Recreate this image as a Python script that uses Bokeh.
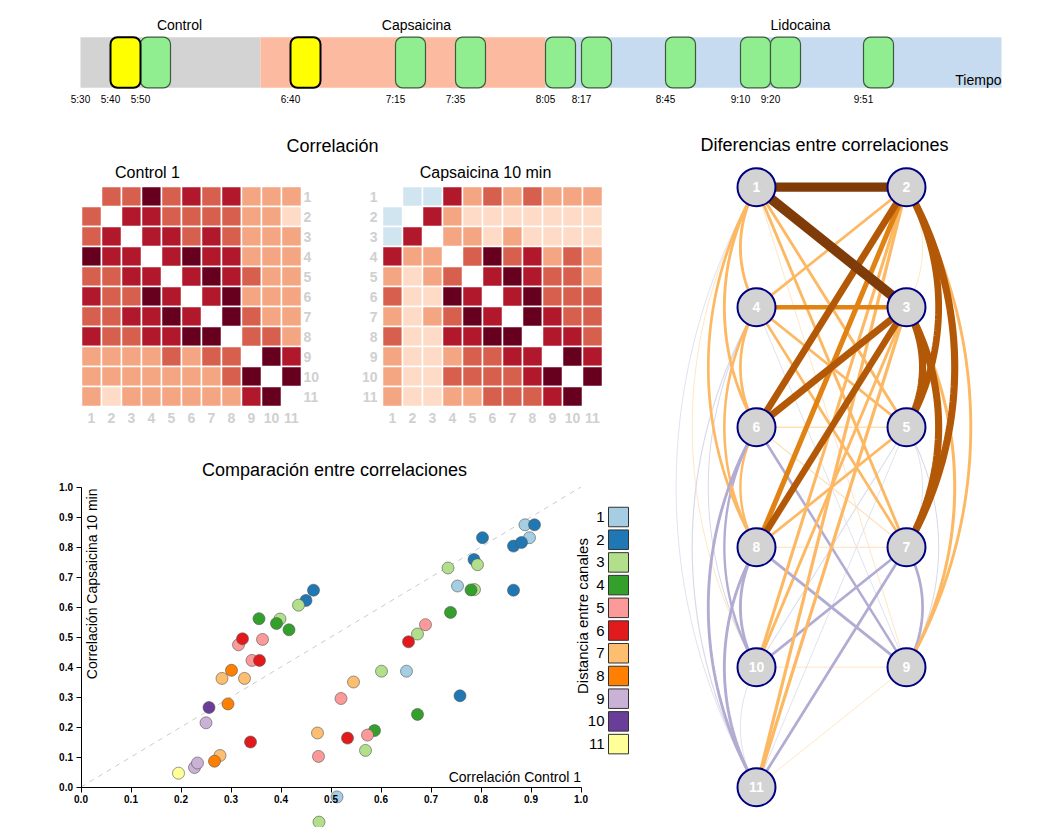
import math
import numpy as np
from bokeh.plotting import figure
from bokeh.models import Range1d, LinearAxis, FixedTicker, PrintfTickFormatter, ColumnDataSource
from bokeh.layouts import column, row
from bokeh.embed import file_html
from bokeh.resources import INLINE
from bokeh.core.properties import value

FONT = "Liberation Sans"

# ---------------- timeline data ----------------
phase_names = ["Control", "Capsaicina", "Lidocaina"]
phase_start = ["5:30", "6:30", "8:05"]
phase_end = ["6:30", "8:05", "10:37"]
phase_label_at = ["6:03", "7:22", "9:30"]
phase_colors = ["#d3d3d3", "#fcbba1", "#c6dbef"]
record_times = ["5:40", "5:50", "6:40", "7:15", "7:35", "8:05", "8:17", "8:45", "9:10", "9:20", "9:51"]
record_is_ref = [True, False, True, False, False, False, False, False, False, False, False]
record_minutes = 10
tick_labels = ["5:30"] + record_times

# ---------------- heatmap data (colour class per cell, '.' = diagonal) ----------------
heat_channels = [str(i) for i in range(1, 12)]
control_1 = [
    ".3353434222",
    "3.443333221",
    "34.44343222",
    "544.4544222",
    "3344.454322",
    "43354.45222",
    "334454.5322",
    "4334455.332",
    "22223233.54",
    "222222235.5",
    "2122222245.",
]
capsaicina_10 = [
    ".0042323222",
    "0.421111111",
    "04.22121111",
    "422.3534232",
    "2123.454332",
    "31154.45333",
    "212354.5433",
    "3114455.443",
    "21123344.54",
    "211333345.5",
    "2112233345.",
]
heat_palette = ["#d1e5f0", "#fddbc7", "#f4a582", "#d6604d", "#b2182b", "#67001f"]

# ---------------- scatter data ----------------
dist_1_x = [0.512, 0.651, 0.753, 0.888, 0.897]
dist_1_y = [-0.033, 0.386, 0.670, 0.874, 0.831]
dist_2_x = [0.450, 0.465, 0.758, 0.786, 0.803, 0.865, 0.881, 0.865, 0.907]
dist_2_y = [0.622, 0.656, 0.304, 0.758, 0.831, 0.803, 0.815, 0.656, 0.874]
dist_3_x = [0.398, 0.435, 0.476, 0.569, 0.601, 0.673, 0.734, 0.787, 0.793]
dist_3_y = [0.560, 0.606, -0.117, 0.122, 0.386, 0.510, 0.730, 0.658, 0.741]
dist_4_x = [0.356, 0.391, 0.416, 0.587, 0.673, 0.739, 0.780]
dist_4_y = [0.561, 0.545, 0.524, 0.188, 0.242, 0.582, 0.657]
dist_5_x = [0.315, 0.342, 0.363, 0.475, 0.520, 0.573, 0.689]
dist_5_y = [0.474, 0.422, 0.492, 0.102, 0.295, 0.173, 0.541]
dist_6_x = [0.323, 0.339, 0.357, 0.533, 0.655]
dist_6_y = [0.494, 0.150, 0.422, 0.163, 0.484]
dist_7_x = [0.278, 0.282, 0.327, 0.473, 0.545]
dist_7_y = [0.105, 0.362, 0.362, 0.180, 0.350]
dist_8_x = [0.267, 0.294, 0.301]
dist_8_y = [0.086, 0.277, 0.389]
dist_9_x = [0.227, 0.233, 0.250]
dist_9_y = [0.065, 0.080, 0.214]
dist_10_x = [0.256]
dist_10_y = [0.265]
dist_11_x = [0.195]
dist_11_y = [0.046]
dist_labels = [str(i) for i in range(1, 12)]
dist_colors = ["#a6cee3", "#1f78b4", "#b2df8a", "#33a02c", "#fb9a99", "#e31a1c",
               "#fdbf6f", "#ff7f00", "#cab2d6", "#6a3d9a", "#ffff99"]
axis_ticks = [0.0, 0.1, 0.2, 0.3, 0.4, 0.5, 0.6, 0.7, 0.8, 0.9, 1.0]

# ---------------- network data ----------------
node_ids = [1, 2, 3, 4, 5, 6, 7, 8, 9, 10, 11]
node_col = [0, 1, 1, 0, 1, 0, 1, 0, 1, 0, 0]
node_row = [0, 0, 1, 1, 2, 2, 3, 3, 4, 4, 5]
edge_a = [1, 1, 1, 1, 1, 1, 1, 1, 1, 1,
          2, 2, 2, 2, 2, 2, 2, 2, 2,
          3, 3, 3, 3, 3, 3, 3, 3,
          4, 4, 4, 4, 4, 4, 4,
          5, 5, 5, 5, 5, 5,
          6, 6, 6, 6, 6,
          7, 7, 7, 7,
          8, 8, 8,
          9, 9,
          10]
edge_b = [2, 3, 4, 5, 6, 7, 8, 9, 10, 11,
          3, 4, 5, 6, 7, 8, 9, 10, 11,
          4, 5, 6, 7, 8, 9, 10, 11,
          5, 6, 7, 8, 9, 10, 11,
          6, 7, 8, 9, 10, 11,
          7, 8, 9, 10, 11,
          8, 9, 10, 11,
          9, 10, 11,
          10, 11,
          11]
edge_diff = [0.55, 0.59, 0.17, 0.17, 0.17, 0.17, 0.16, 0.04, 0.03, -0.02,
             0.04, 0.16, 0.40, 0.40, 0.42, 0.30, 0.17, 0.18, 0.19,
             0.26, 0.42, 0.42, 0.42, 0.38, 0.18, 0.17, 0.19,
             0.16, 0.16, 0.16, 0.15, -0.04, -0.06, -0.07,
             0.09, -0.03, 0.16, -0.06, -0.06, -0.04,
             0.07, 0.14, -0.15, -0.14, -0.17,
             0.06, -0.16, -0.16, -0.16,
             -0.17, -0.17, -0.17,
             0.02, 0.01,
             -0.03]


def minutes(s):
    h, m = s.split(":")
    return (int(h) - 5) * 60 + int(m) - 30


def clean(p):
    p.grid.visible = False
    p.outline_line_color = None
    p.background_fill_color = "white"
    p.border_fill_color = "white"


# =============== timeline ===============
T_W, T_H = 1035, 112
pt = figure(width=T_W, height=T_H, x_range=Range1d(-80 / 3.0, -80 / 3.0 + T_W / 3.0),
            y_range=Range1d(-0.034, 1.725), toolbar_location=None, output_backend="svg",
            x_axis_location=None, y_axis_location=None,
            min_border_left=0, min_border_right=0, min_border_top=0, min_border_bottom=23)
clean(pt)
pt.quad(left=[minutes(s) for s in phase_start], right=[minutes(s) for s in phase_end],
        bottom=0, top=1, fill_color=phase_colors, line_color=None)
ref_l = [minutes(t) for t, r in zip(record_times, record_is_ref) if r]
test_l = [minutes(t) for t, r in zip(record_times, record_is_ref) if not r]
pt.quad(left=test_l, right=[v + record_minutes for v in test_l], bottom=0, top=1,
        fill_color="#90ee90", line_color="#3d5a3d", line_width=1.2, border_radius=7)
pt.quad(left=ref_l, right=[v + record_minutes for v in ref_l], bottom=0, top=1,
        fill_color="#ffff00", line_color="black", line_width=2, border_radius=7)
pt.text(x=[minutes(s) for s in phase_label_at], y=1.25, text=phase_names,
        text_align="center", text_baseline="middle", text_font=value(FONT),
        text_font_size="14px", text_color="black")
pt.text(x=[minutes(phase_end[-1])], y=0.144, text=["Tiempo"], text_align="right",
        text_baseline="middle", text_font=value(FONT), text_font_size="14px", text_color="black")
tick_min = [minutes(s) for s in tick_labels]
tax = LinearAxis(ticker=FixedTicker(ticks=tick_min),
                 major_label_overrides={m: s for m, s in zip(tick_min, tick_labels)},
                 axis_line_color=None, major_tick_line_color=None, minor_tick_line_color=None,
                 major_tick_out=0, major_tick_in=0,
                 major_label_standoff=4, major_label_text_font_size="10px",
                 major_label_text_font=FONT, major_label_text_color="black")
pt.add_layout(tax, "below")

# =============== heatmaps ===============
ph = figure(width=648, height=328, x_range=Range1d(-3.55, 28.85), y_range=Range1d(13.2, -3.2),
            toolbar_location=None, output_backend="svg", x_axis_location=None, y_axis_location=None,
            min_border=0, min_border_left=0, min_border_right=0, min_border_top=0, min_border_bottom=0)
clean(ph)
CAPS_OFF = 15.05
hx, hy, hc = [], [], []
for off, mat in ((0.0, control_1), (CAPS_OFF, capsaicina_10)):
    for i, rowstr in enumerate(mat):
        for j, ch in enumerate(rowstr):
            if ch == ".":
                continue
            hx.append(j + 1 + off)
            hy.append(i + 1)
            hc.append(heat_palette[int(ch)])
ph.rect(x=hx, y=hy, width=1, height=1, fill_color=hc, line_color="white", line_width=1.5)
lab_kw = dict(text_font=value(FONT), text_font_size="14px", text_font_style="bold",
              text_color="#d0d0d0", text_baseline="middle")
idx = list(range(1, 12))
ph.text(x=11.6, y=idx, text=heat_channels, text_align="left", **lab_kw)
ph.text(x=idx, y=12.05, text=heat_channels, text_align="center", **lab_kw)
ph.text(x=15.3, y=idx, text=heat_channels, text_align="right", **lab_kw)
ph.text(x=[v + CAPS_OFF for v in idx], y=12.05, text=heat_channels, text_align="center", **lab_kw)
ph.text(x=[13.05], y=[-1.55], text=["Correlación"], text_align="center", text_baseline="middle",
        text_font=value(FONT), text_font_size="18px", text_color="black")
ph.text(x=[3.8, 20.7], y=[-0.215, -0.215], text=["Control 1", "Capsaicina 10 min"],
        text_align="center", text_baseline="middle", text_font=value(FONT),
        text_font_size="16px", text_color="black")

# =============== scatter ===============
ps = figure(width=648, height=387, x_range=Range1d(-0.161, 1.135), y_range=Range1d(-0.135, 1.155),
            toolbar_location=None, output_backend="svg", x_axis_location=None, y_axis_location=None,
            min_border=0, min_border_left=0, min_border_right=0, min_border_top=0, min_border_bottom=0)
clean(ps)
ax_kw = dict(fixed_location=0, bounds=(0, 1), ticker=FixedTicker(ticks=axis_ticks),
             formatter=PrintfTickFormatter(format="%.1f"),
             major_tick_out=5, major_tick_in=0, minor_tick_line_color=None,
             axis_line_color="black", major_tick_line_color="black",
             major_label_text_font=FONT, major_label_text_font_size="10px",
             major_label_text_font_style="bold", major_label_text_color="black",
             major_label_standoff=3)
ps.add_layout(LinearAxis(**ax_kw), "below")
ps.add_layout(LinearAxis(**ax_kw), "left")
ps.line(x=[0, 1], y=[0, 1], line_color="#cccccc", line_dash="5 5", line_width=1)

all_x = [dist_1_x, dist_2_x, dist_3_x, dist_4_x, dist_5_x, dist_6_x, dist_7_x, dist_8_x,
         dist_9_x, dist_10_x, dist_11_x]
all_y = [dist_1_y, dist_2_y, dist_3_y, dist_4_y, dist_5_y, dist_6_y, dist_7_y, dist_8_y,
         dist_9_y, dist_10_y, dist_11_y]
for k in range(11):
    ps.scatter(x=all_x[k], y=all_y[k], size=12, fill_color=dist_colors[k],
               line_color="#555555", line_alpha=0.6, line_width=1)

ps.text(x=[0.507], y=[1.058], text=["Comparación entre correlaciones"], text_align="center",
        text_baseline="middle", text_font=value(FONT), text_font_size="18px", text_color="black")
ps.text(x=[0.0224], y=[0.995], text=["Correlación Capsaicina 10 min"], angle=math.pi / 2,
        text_align="right", text_baseline="middle", text_font=value(FONT),
        text_font_size="14px", text_color="black")
ps.text(x=[1.0], y=[0.035], text=["Correlación Control 1"], text_align="right",
        text_baseline="middle", text_font=value(FONT), text_font_size="14px", text_color="black")
# legend
leg_y = [0.900 - 0.0757 * k for k in range(len(dist_labels))]
ps.rect(x=1.075, y=leg_y, width=0.040, height=0.065, fill_color=dist_colors,
        line_color="#333333", line_width=1)
ps.text(x=1.047, y=leg_y, text=dist_labels, text_align="right", text_baseline="middle",
        text_font=value(FONT), text_font_size="15px", text_color="black")
ps.text(x=[1.003], y=[0.57], text=["Distancia entre canales"], angle=math.pi / 2,
        text_align="center", text_baseline="middle", text_font=value(FONT),
        text_font_size="15px", text_color="black")

# =============== network ===============
pn = figure(width=385, height=715, x_range=Range1d(-0.72, 1.8467), y_range=Range1d(5.336, -0.6225),
            toolbar_location=None, output_backend="svg", x_axis_location=None, y_axis_location=None,
            min_border=0, min_border_left=0, min_border_right=0, min_border_top=0, min_border_bottom=0)
clean(pn)
SX, SY = 150.0, 120.0
pos = {n: (c, r) for n, c, r in zip(node_ids, node_col, node_row)}


def edge_path(a, b):
    ca, ra = pos[a]
    cb, rb = pos[b]
    if ca != cb:
        return [ca, cb], [ra, rb]
    x = ca * SX
    y1, y2 = ra * SY, rb * SY
    c = abs(y2 - y1)
    r = c
    d = r * math.sqrt(3) / 2
    ym = (y1 + y2) / 2
    sign = -1 if ca == 0 else 1
    cx = x - sign * d
    th = np.linspace(-math.pi / 6, math.pi / 6, 50)
    px = cx + sign * r * np.cos(th)
    py = ym + r * np.sin(th)
    return list(px / SX), list(py / SY)


def edge_color(dv):
    if dv >= 0.5:
        return "#7f3b08"
    if dv >= 0.35:
        return "#b35806"
    if dv >= 0.25:
        return "#e08214"
    if dv >= 0.1:
        return "#fdb863"
    if dv >= 0:
        return "#fee0b6"
    if dv > -0.1:
        return "#d8daeb"
    return "#b2abd2"


order = sorted(range(len(edge_diff)), key=lambda k: abs(edge_diff[k]))
exs, eys, ecs, ews = [], [], [], []
for k in order:
    xs, ys = edge_path(edge_a[k], edge_b[k])
    exs.append(xs)
    eys.append(ys)
    ecs.append(edge_color(edge_diff[k]))
    ews.append(max(0.8, abs(edge_diff[k]) * 17))
pn.multi_line(xs="xs", ys="ys", line_color="c", line_width="w",
              source=ColumnDataSource(dict(xs=exs, ys=eys, c=ecs, w=ews)))
pn.scatter(x=node_col, y=node_row, size=38, fill_color="#d3d3d3", line_color="#000080", line_width=2)
pn.text(x=node_col, y=node_row, text=[str(n) for n in node_ids], text_align="center",
        text_baseline="middle", text_font=value(FONT), text_font_size="14px",
        text_font_style="bold", text_color="white")
pn.text(x=[0.453], y=[-0.3475], text=["Diferencias entre correlaciones"], text_align="center",
        text_baseline="middle", text_font=value(FONT), text_font_size="18px", text_color="black")

layout = column(pt, row(column(ph, ps), pn))
open("out.html", "w").write(file_html(layout, INLINE))
